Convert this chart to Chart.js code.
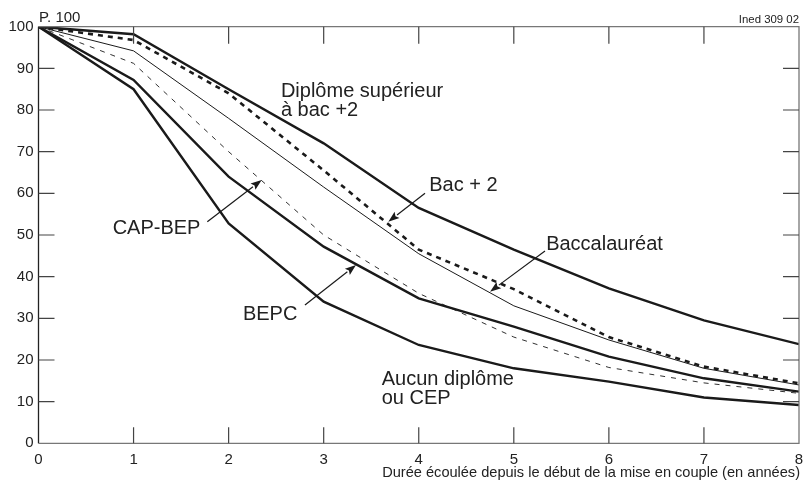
<!DOCTYPE html>
<html>
<head>
<meta charset="utf-8">
<script src="https://cdn.jsdelivr.net/npm/chart.js"></script>
<style>
  html, body { margin: 0; padding: 0; background: #fff; }
  #wrap { width: 804px; height: 481px; position: relative; }
</style>
</head>
<body>
<div id="wrap"><canvas id="chart"></canvas></div>
<script>
// years since start of the union
const years = [0, 1, 2, 3, 4, 5, 6, 7, 8];
// % still together, by diploma
const superieur = [100, 98.2, 85, 72, 56.5, 46.5, 37.2, 29.5, 23.8];
const bac2      = [100, 96.8, 84, 65.5, 46.5, 37, 25.5, 18.4, 14.4];
const bac       = [100, 94.2, 78, 61.5, 45.5, 33, 24.8, 18, 14];
const capBep    = [100, 91.2, 70, 50, 36, 25.5, 18.2, 14.5, 12];
const bepc      = [100, 87.2, 64, 47.2, 34.8, 28, 20.8, 15.6, 12.4];
const aucun     = [100, 85, 52.8, 34, 23.6, 18, 14.8, 11, 9.2];

const xTicks = [0, 1, 2, 3, 4, 5, 6, 7, 8];
const yTicks = [0, 10, 20, 30, 40, 50, 60, 70, 80, 90, 100];

const FONT = '"Liberation Sans", Arial, Helvetica, sans-serif';
const INK = '#1a1a1a';

// curve labels, in data units (x, y of baseline start)
const labels = [
  { text: ['Diplôme supérieur', 'à bac +2'], x: 2.55, y: 83.2 },
  { text: ['Bac + 2'], x: 4.11, y: 60.55 },
  { text: ['Baccalauréat'], x: 5.34, y: 46.4 },
  { text: ['CAP-BEP'], x: 0.78, y: 50.2 },
  { text: ['BEPC'], x: 2.15, y: 29.6 },
  { text: ['Aucun diplôme', 'ou CEP'], x: 3.61, y: 14.0 }
];
// arrows: tail -> tip, data units
const arrows = [
  [4.066, 60.0, 3.68, 53.2],
  [5.328, 46.15, 4.75, 36.4],
  [1.776, 53.2, 2.348, 63.2],
  [2.803, 33.2, 3.34, 42.8]
];

function pts(arr) { return years.map((x, i) => ({ x: x, y: arr[i] })); }

function ds(arr, width, dash) {
  return {
    data: pts(arr),
    borderColor: INK,
    borderWidth: width,
    borderDash: dash || [],
    pointRadius: 0,
    tension: 0,
    fill: false,
    borderJoinStyle: 'miter'
  };
}

const frame = {
  id: 'frame',
  afterDraw(chart) {
    const ctx = chart.ctx;
    const xs = chart.scales.x, ys = chart.scales.y;
    const a = chart.chartArea;
    ctx.save();

    // box
    ctx.lineWidth = 1.3;
    ctx.strokeStyle = '#777';
    ctx.beginPath();
    ctx.moveTo(a.left, a.top); ctx.lineTo(a.right, a.top);
    ctx.lineTo(a.right, a.bottom); ctx.lineTo(a.left, a.bottom);
    ctx.stroke();
    ctx.strokeStyle = '#222';
    ctx.beginPath();
    ctx.moveTo(a.left, a.top); ctx.lineTo(a.left, a.bottom);
    ctx.stroke();

    // inward ticks
    ctx.strokeStyle = '#444';
    ctx.lineWidth = 1.2;
    ctx.beginPath();
    xTicks.forEach(v => {
      if (v === 0 || v === 8) return;
      const px = xs.getPixelForValue(v);
      ctx.moveTo(px, a.top); ctx.lineTo(px, a.top + 17);
      ctx.moveTo(px, a.bottom); ctx.lineTo(px, a.bottom - 16);
    });
    yTicks.forEach(v => {
      if (v === 0 || v === 100) return;
      const py = ys.getPixelForValue(v);
      ctx.moveTo(a.left, py); ctx.lineTo(a.left + 16, py);
      ctx.moveTo(a.right, py); ctx.lineTo(a.right - 16, py);
    });
    ctx.stroke();

    // tick labels
    ctx.fillStyle = '#222';
    ctx.font = '15px ' + FONT;
    ctx.textAlign = 'right';
    ctx.textBaseline = 'middle';
    yTicks.forEach(v => ctx.fillText(String(v), a.left - 5, ys.getPixelForValue(v)));
    ctx.textAlign = 'center';
    ctx.textBaseline = 'alphabetic';
    xTicks.forEach(v => ctx.fillText(String(v), xs.getPixelForValue(v), 463.5));

    ctx.textAlign = 'left';
    ctx.fillText('P. 100', 39, 21.7);
    ctx.font = '14.6px ' + FONT;
    ctx.textAlign = 'right';
    ctx.fillText('Durée écoulée depuis le début de la mise en couple (en années)', 800, 476.5);
    ctx.font = '11.4px ' + FONT;
    ctx.fillText('Ined 309 02', 799, 22.5);

    // curve labels
    ctx.font = '20px ' + FONT;
    ctx.textAlign = 'left';
    labels.forEach(l => {
      const px = xs.getPixelForValue(l.x), py = ys.getPixelForValue(l.y);
      l.text.forEach((t, i) => ctx.fillText(t, px, py + i * 19));
    });

    // arrows
    ctx.strokeStyle = INK;
    ctx.fillStyle = INK;
    ctx.lineWidth = 1.2;
    arrows.forEach(r => {
      const x1 = xs.getPixelForValue(r[0]), y1 = ys.getPixelForValue(r[1]);
      const x2 = xs.getPixelForValue(r[2]), y2 = ys.getPixelForValue(r[3]);
      const ang = Math.atan2(y2 - y1, x2 - x1);
      const hl = 11, hw = 4;
      const bx = x2 - hl * Math.cos(ang), by = y2 - hl * Math.sin(ang);
      ctx.beginPath();
      ctx.moveTo(x1, y1); ctx.lineTo(bx, by);
      ctx.stroke();
      ctx.beginPath();
      ctx.moveTo(x2, y2);
      ctx.lineTo(bx + hw * Math.sin(ang), by - hw * Math.cos(ang));
      ctx.lineTo(bx + 2 * Math.cos(ang), by + 2 * Math.sin(ang));
      ctx.lineTo(bx - hw * Math.sin(ang), by + hw * Math.cos(ang));
      ctx.closePath();
      ctx.fill();
    });
    ctx.restore();
  }
};

new Chart(document.getElementById('chart'), {
  type: 'line',
  data: {
    datasets: [
      ds(superieur, 2.4),
      ds(bac2, 2.6, [5, 5]),
      ds(bac, 1),
      ds(capBep, 0.9, [5, 6]),
      ds(bepc, 2.4),
      ds(aucun, 2.4)
    ]
  },
  options: {
    responsive: true,
    maintainAspectRatio: false,
    animation: false,
    layout: { padding: { left: 38.5, right: 5, top: 26.7, bottom: 37.7 } },
    plugins: { legend: { display: false }, tooltip: { enabled: false } },
    scales: {
      x: { type: 'linear', min: 0, max: 8, display: false },
      y: { min: 0, max: 100, display: false }
    }
  },
  plugins: [frame]
});
</script>
</body>
</html>
